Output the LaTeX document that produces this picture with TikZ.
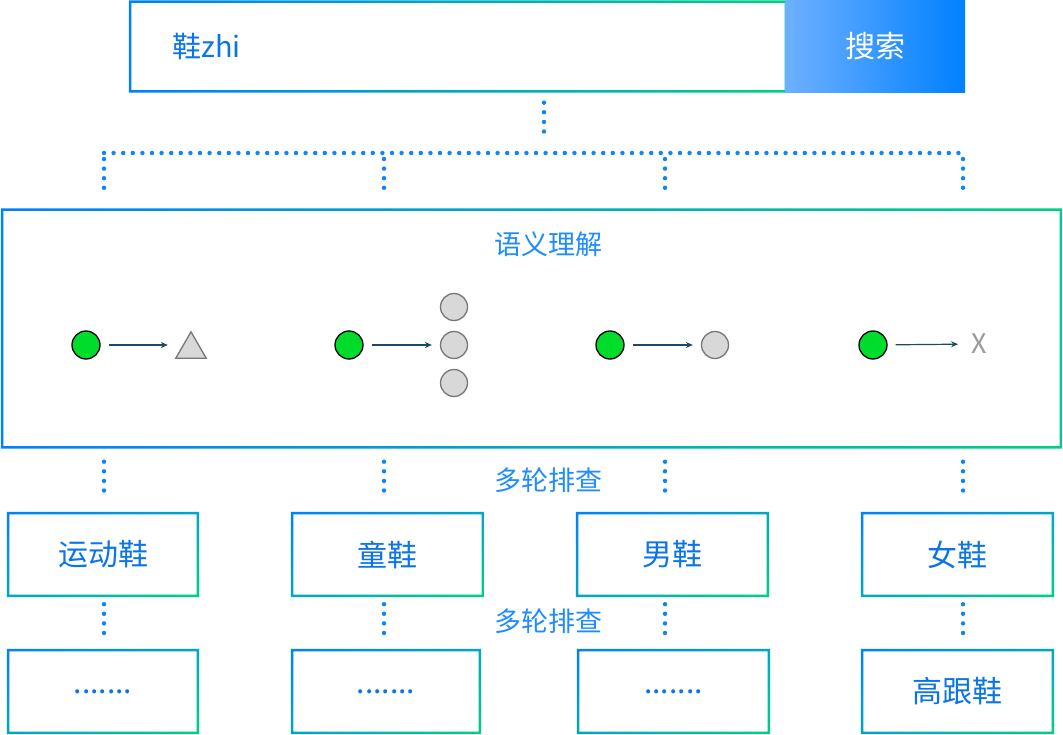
\documentclass[tikz,border=0pt]{standalone}
\usepackage{fontspec}
\setmainfont{Noto Sans CJK SC}
\usetikzlibrary{arrows.meta,positioning,shadings}

\definecolor{blueA}{HTML}{0080FF}
\definecolor{greenA}{HTML}{00D084}
\definecolor{midA}{HTML}{00A8C1}
\definecolor{btnL}{HTML}{6EB0FF}
\definecolor{txtB}{HTML}{0B74E8}
\definecolor{txtC}{HTML}{1E8CFF}
\definecolor{dotB}{HTML}{0A84FF}
\definecolor{arrC}{HTML}{1B4B66}
\definecolor{okG}{HTML}{00DC2C}
\definecolor{grayF}{HTML}{D8D8D8}
\definecolor{grayD}{HTML}{777777}
\definecolor{grayX}{HTML}{999999}

% frame with a colour run: left to right / corner to corner
\newcommand\hframe[1]{\shade[left color=blueA,right color=greenA,even odd rule]
  (#1.north west) rectangle (#1.south east)
  ([shift={(2.5,2.5)}]#1.north west) rectangle ([shift={(-2.5,-2.5)}]#1.south east);}
\newcommand\dframe[1]{\shade[upper left=blueA,lower right=greenA,upper right=midA,lower left=midA,even odd rule]
  (#1.north west) rectangle (#1.south east)
  ([shift={(2.5,2.5)}]#1.north west) rectangle ([shift={(-2.5,-2.5)}]#1.south east);}
\newcommand\moredots{.......}

\tikzset{
  box/.style={inner sep=0pt, minimum height=85, text=txtB, font=\fontsize{30}{30}\selectfont},
  dotline/.style={dotB, line width=4.4, line cap=round, dash pattern=on 0pt off 9.6pt},
  ok/.style={circle, draw=black, line width=1.3, fill=okG, minimum size=28, inner sep=0pt},
  cand/.style={circle, draw=grayD, line width=1.3, fill=grayF, minimum size=27, inner sep=0pt},
  arr/.style={-{Stealth[length=7pt,width=6pt]}, arrC, line width=1.2, shorten <=8},
  note/.style={text=txtC, font=\fontsize{27}{27}\selectfont}
}

\begin{document}
\begin{tikzpicture}[x=1pt,y=-1pt]
  \fill[white](0,0) rectangle (1063,735);
  \useasboundingbox(0,0) rectangle (1063,735);

  % search bar
  \node[inner sep=0, minimum width=658, minimum height=92](query) at (458,46.5){};
  \hframe{query}
  \node[inner sep=0, minimum width=180, minimum height=92, left color=btnL, right color=blueA,
    text=white, font=\fontsize{30}{30}\selectfont](btn) at (875,46.5){搜索};
  \node[anchor=west, text=txtB, font=\fontsize{29}{29}\selectfont](qtext) at (169,47){鞋zhi};

  % semantic block
  \node[inner sep=0, minimum width=1061, minimum height=240](sem) at (531.5,328.5){};
  \hframe{sem}
  \node[note](title) at (548,244){语义理解};

  % tree of dots
  \coordinate(hub) at (544,153);
  \foreach \n/\x in {1/104,2/384,3/665,4/963} \coordinate(k\n) at (\x,153);
  \draw[dotline, shorten <=10, shorten >=13](query.south -| hub)--(hub);
  \draw[dotline](k1)--(k4);
  \foreach \n in {1,...,4}
    \draw[dotline, shorten <=6, shorten >=13](k\n)--(k\n |- sem.north);

  % word -> meaning
  \node[ok](g1) at (86,345){};
  \node[inner sep=0, minimum width=30, minimum height=26](t1) at (191,345){};
  \filldraw[draw=grayD, fill=grayF, line width=1.3](t1.south west)--(t1.south east)--(t1.north)--cycle;
  \draw[arr, shorten >=8](g1)--(t1);

  \node[ok](g2) at (349,345){};
  \node[cand](t2a) at (454,307){};
  \node[cand](t2) at (454,345){};
  \node[cand](t2b) at (454,383){};
  \draw[arr, shorten >=8](g2)--(t2);

  \node[ok](g3) at (610,345){};
  \node[cand](t3) at (715,345){};
  \draw[arr, shorten >=8](g3)--(t3);

  \node[ok](g4) at (873,345){};
  \node[inner sep=0, text=grayX, font=\fontsize{27}{27}\selectfont](t4) at (979,344){X};
  \draw[arr, shorten >=13](g4)--(t4);

  % first round
  \foreach \n/\x/\w/\t in {1/103/192/运动鞋,2/387.5/193/童鞋,3/672.5/193/男鞋,4/957.5/193/女鞋}{
    \node[box, minimum width=\w](b\n) at (\x,554.5){\t};
    \dframe{b\n}
  }
  \node[note](pass1) at (548,480){多轮排查};
  \foreach \n in {1,...,4}
    \draw[dotline, shorten <=13, shorten >=14](sem.south -| k\n)--(b\n.north -| k\n);

  % second round
  \foreach \n/\x/\w/\t in {1/103/192/\moredots,2/386/190/\moredots,3/673.5/193/\moredots,4/957.5/193/高跟鞋}{
    \node[box, minimum width=\w](c\n) at (\x,691.5){\t};
    \dframe{c\n}
  }
  \node[note](pass2) at (548,621){多轮排查};
  \foreach \n in {1,...,4}
    \draw[dotline, shorten <=7, shorten >=7](b\n.south -| k\n)--(c\n.north -| k\n);
\end{tikzpicture}
\end{document}
